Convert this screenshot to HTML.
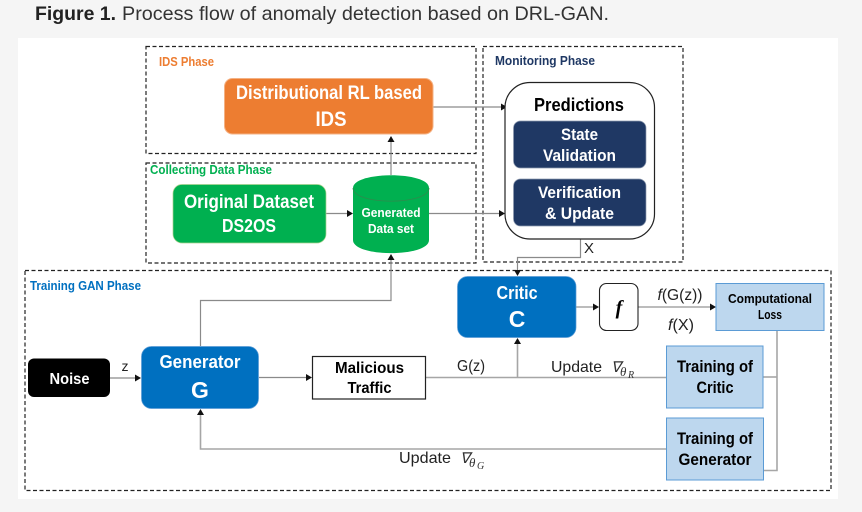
<!DOCTYPE html>
<html><head><meta charset="utf-8"><style>
html,body{margin:0;padding:0;background:#f5f5f5;width:862px;height:512px;overflow:hidden}
svg{display:block}
text{font-family:"Liberation Sans",sans-serif;text-anchor:middle;font-weight:bold}
.p{text-anchor:start;font-size:12.5px}
.d{fill:none;stroke:#222;stroke-width:1.2;stroke-dasharray:4 2.5}
.l{fill:none;stroke:#8a8a8a;stroke-width:1.2}
.t{stroke:#a6a6a6;stroke-width:1.6;fill:none}
.a{fill:#111}
.w{fill:#fff}.k{fill:#000}
.n{font-weight:normal;fill:#222}
.m{font-family:"Liberation Serif",serif;font-style:italic;font-weight:normal;fill:#333;text-anchor:start}
</style></head><body>
<svg width="862" height="512" viewBox="0 0 862 512" xmlns="http://www.w3.org/2000/svg">
<rect width="862" height="512" fill="#f5f5f5"/>
<rect x="18" y="38" width="820" height="461" fill="#fff"/>
<text x="35" y="20" style="text-anchor:start;font-size:19.5px" fill="#222" textLength="81" lengthAdjust="spacingAndGlyphs">Figure 1.</text>
<text x="122" y="20" style="text-anchor:start;font-size:19.5px;font-weight:normal" fill="#333" textLength="487" lengthAdjust="spacingAndGlyphs">Process flow of anomaly detection based on DRL-GAN.</text>

<rect class="d" x="146" y="46.500" width="330" height="107"/>
<rect class="d" x="146" y="163" width="330" height="100"/>
<rect class="d" x="483" y="46.500" width="200" height="215.500"/>
<rect class="d" x="25" y="270.500" width="806" height="220"/>

<text class="p" x="159" y="66" fill="#ed7d31" textLength="55" lengthAdjust="spacingAndGlyphs">IDS Phase</text>
<text class="p" x="150" y="174" fill="#00b050" textLength="122" lengthAdjust="spacingAndGlyphs">Collecting Data Phase</text>
<text class="p" x="495" y="65" fill="#1f3864" textLength="100" lengthAdjust="spacingAndGlyphs">Monitoring Phase</text>
<text class="p" x="30" y="290" fill="#0070c0" textLength="111" lengthAdjust="spacingAndGlyphs">Training GAN Phase</text>

<!-- connectors -->
<path class="l" d="M433 107H503"/><path class="a" d="M507 107l-6-3.500v7z"/>
<path class="l" d="M391 175V141"/><path class="a" d="M391 136l-3.500 6h7z"/>
<path class="l" d="M326 213.500H348"/><path class="a" d="M353 213.500l-6-3.500v7z"/>
<path class="l" d="M429 213.500H500"/><path class="a" d="M505 213.500l-6-3.500v7z"/>
<path class="l" d="M580.500 239V257.500H517.500V271"/><path class="a" d="M517.500 276l-3.500-6h7z"/>
<path class="l" d="M200.500 346V300.500H391V259"/><path class="a" d="M391 254l-3.500 6h7z"/>
<path class="l" d="M110 378H136"/><path class="a" d="M141 378l-6-3.500v7z"/>
<path class="l" d="M259 377.500H307"/><path class="a" d="M312 377.500l-6-3.500v7z"/>
<path class="t" d="M426 377.500H666"/>
<path class="t" d="M517.500 377.500V343"/><path class="a" d="M517.500 338l-3.500 6h7z"/>
<path class="t" d="M576 307H595"/><path class="a" d="M599 307l-6-3.500v7z"/>
<path class="t" d="M638 307H711"/><path class="a" d="M716 307l-6-3.500v7z"/>
<path class="t" d="M777 331V470.500H763"/>
<path class="t" d="M763 377H777"/>
<path class="t" d="M666 449H200.500V415"/><path class="a" d="M200.500 409l-3.500 6h7z"/>

<!-- IDS -->
<rect x="224.500" y="78.500" width="208.500" height="55.500" rx="8" fill="#ed7d31" stroke="#f4b183"/>
<text class="w" x="329" y="99" font-size="19" textLength="186" lengthAdjust="spacingAndGlyphs">Distributional RL based</text>
<text class="w" x="331" y="126" font-size="21" textLength="31" lengthAdjust="spacingAndGlyphs">IDS</text>

<!-- Original -->
<rect x="173" y="184.500" width="153" height="58.500" rx="9" fill="#00b050" stroke="#a9d18e" stroke-width=".7"/>
<text class="w" x="249" y="208" font-size="19" textLength="130" lengthAdjust="spacingAndGlyphs">Original Dataset</text>
<text class="w" x="249" y="232" font-size="18" textLength="54" lengthAdjust="spacingAndGlyphs">DS2OS</text>

<!-- Cylinder -->
<path d="M353 188C353 171 429 171 429 188V240C429 257.500 353 257.500 353 240Z" fill="#00b050"/>
<path d="M353 188C353 205.500 429 205.500 429 188" fill="none" stroke="#2f8a4d" stroke-width=".8"/>
<text class="w" x="391" y="217" font-size="12.500" textLength="59" lengthAdjust="spacingAndGlyphs">Generated</text>
<text class="w" x="391" y="233" font-size="12.500" textLength="46" lengthAdjust="spacingAndGlyphs">Data set</text>

<!-- Predictions -->
<rect x="505" y="82.500" width="149.500" height="156.500" rx="25" fill="#fff" stroke="#222" stroke-width="1.2"/>
<text class="k" x="579" y="111" font-size="18" textLength="90" lengthAdjust="spacingAndGlyphs">Predictions</text>
<rect x="513.500" y="121" width="132.500" height="47" rx="7" fill="#1f3864" stroke="#8f9bb0" stroke-width=".7"/>
<text class="w" x="579.500" y="140" font-size="16.500" textLength="37" lengthAdjust="spacingAndGlyphs">State</text>
<text class="w" x="579.500" y="161" font-size="16.500" textLength="73" lengthAdjust="spacingAndGlyphs">Validation</text>
<rect x="513.500" y="179" width="132.500" height="47" rx="7" fill="#1f3864" stroke="#8f9bb0" stroke-width=".7"/>
<text class="w" x="579.500" y="198" font-size="16.500" textLength="83" lengthAdjust="spacingAndGlyphs">Verification</text>
<text class="w" x="579.500" y="219" font-size="16.500" textLength="69" lengthAdjust="spacingAndGlyphs">&amp; Update</text>
<text class="n" x="589" y="253" font-size="15">X</text>

<!-- Noise -->
<rect x="28" y="358.500" width="82" height="38.500" rx="6" fill="#000"/>
<text class="w" x="69.500" y="384" font-size="15.500" textLength="40" lengthAdjust="spacingAndGlyphs">Noise</text>
<text class="n" x="125" y="371" font-size="14">z</text>

<!-- Generator -->
<rect x="141.500" y="346.500" width="117" height="62" rx="10" fill="#0070c0" stroke="#5b9bd5" stroke-width=".7"/>
<text class="w" x="200" y="368" font-size="18" textLength="81" lengthAdjust="spacingAndGlyphs">Generator</text>
<text class="w" x="200" y="398" font-size="23">G</text>

<!-- Malicious -->
<rect x="312.500" y="356.500" width="113" height="42.500" fill="#fff" stroke="#222" stroke-width="1.200"/>
<text class="k" x="369.500" y="373" font-size="16" textLength="69" lengthAdjust="spacingAndGlyphs">Malicious</text>
<text class="k" x="369.500" y="393" font-size="16" textLength="44" lengthAdjust="spacingAndGlyphs">Traffic</text>
<text class="n" x="471" y="371" font-size="16" textLength="28" lengthAdjust="spacingAndGlyphs">G(z)</text>

<!-- Critic -->
<rect x="457.500" y="276.500" width="118.500" height="61" rx="10" fill="#0070c0" stroke="#5b9bd5" stroke-width=".7"/>
<text class="w" x="517" y="299" font-size="18" textLength="41" lengthAdjust="spacingAndGlyphs">Critic</text>
<text class="w" x="517" y="327" font-size="23">C</text>

<!-- f -->
<rect x="599.500" y="283.500" width="38.500" height="47" rx="7" fill="#fff" stroke="#222" stroke-width="1.100"/>
<text class="k" x="619" y="314" font-size="20" style="font-family:'Liberation Serif',serif;font-style:italic">f</text>
<text class="n" x="680" y="300" font-size="16" textLength="45" lengthAdjust="spacingAndGlyphs"><tspan font-style="italic">f</tspan>(G(z))</text>
<text class="n" x="681" y="330" font-size="16" textLength="26" lengthAdjust="spacingAndGlyphs"><tspan font-style="italic">f</tspan>(X)</text>

<!-- Computational -->
<rect x="716" y="283.500" width="108" height="47" fill="#bdd7ee" stroke="#5b9bd5" stroke-width="1"/>
<text class="k" x="770" y="303" font-size="12.500" textLength="84" lengthAdjust="spacingAndGlyphs">Computational</text>
<text class="k" x="770" y="319" font-size="12.500" textLength="24" lengthAdjust="spacingAndGlyphs">Loss</text>

<!-- Training -->
<rect x="666.500" y="346" width="96.500" height="62" fill="#bdd7ee" stroke="#5b9bd5" stroke-width="1"/>
<text class="k" x="715" y="372" font-size="17" textLength="76" lengthAdjust="spacingAndGlyphs">Training of</text>
<text class="k" x="715" y="393" font-size="17" textLength="37" lengthAdjust="spacingAndGlyphs">Critic</text>
<rect x="666.500" y="418" width="97" height="62" fill="#bdd7ee" stroke="#5b9bd5" stroke-width="1"/>
<text class="k" x="715" y="444" font-size="17" textLength="76" lengthAdjust="spacingAndGlyphs">Training of</text>
<text class="k" x="715" y="465" font-size="17" textLength="73" lengthAdjust="spacingAndGlyphs">Generator</text>

<!-- Updates -->
<text class="n" x="551" y="372" font-size="16" style="text-anchor:start" textLength="51" lengthAdjust="spacingAndGlyphs">Update</text>
<text class="m" x="611" y="372" font-size="15">∇</text>
<text class="m" x="620" y="376" font-size="13">θ</text>
<text class="m" x="628" y="378" font-size="10">R</text>
<text class="n" x="399" y="463" font-size="16" style="text-anchor:start" textLength="52" lengthAdjust="spacingAndGlyphs">Update</text>
<text class="m" x="460" y="463" font-size="15">∇</text>
<text class="m" x="469" y="467" font-size="13">θ</text>
<text class="m" x="477" y="469" font-size="10">G</text>
</svg>
</body></html>
